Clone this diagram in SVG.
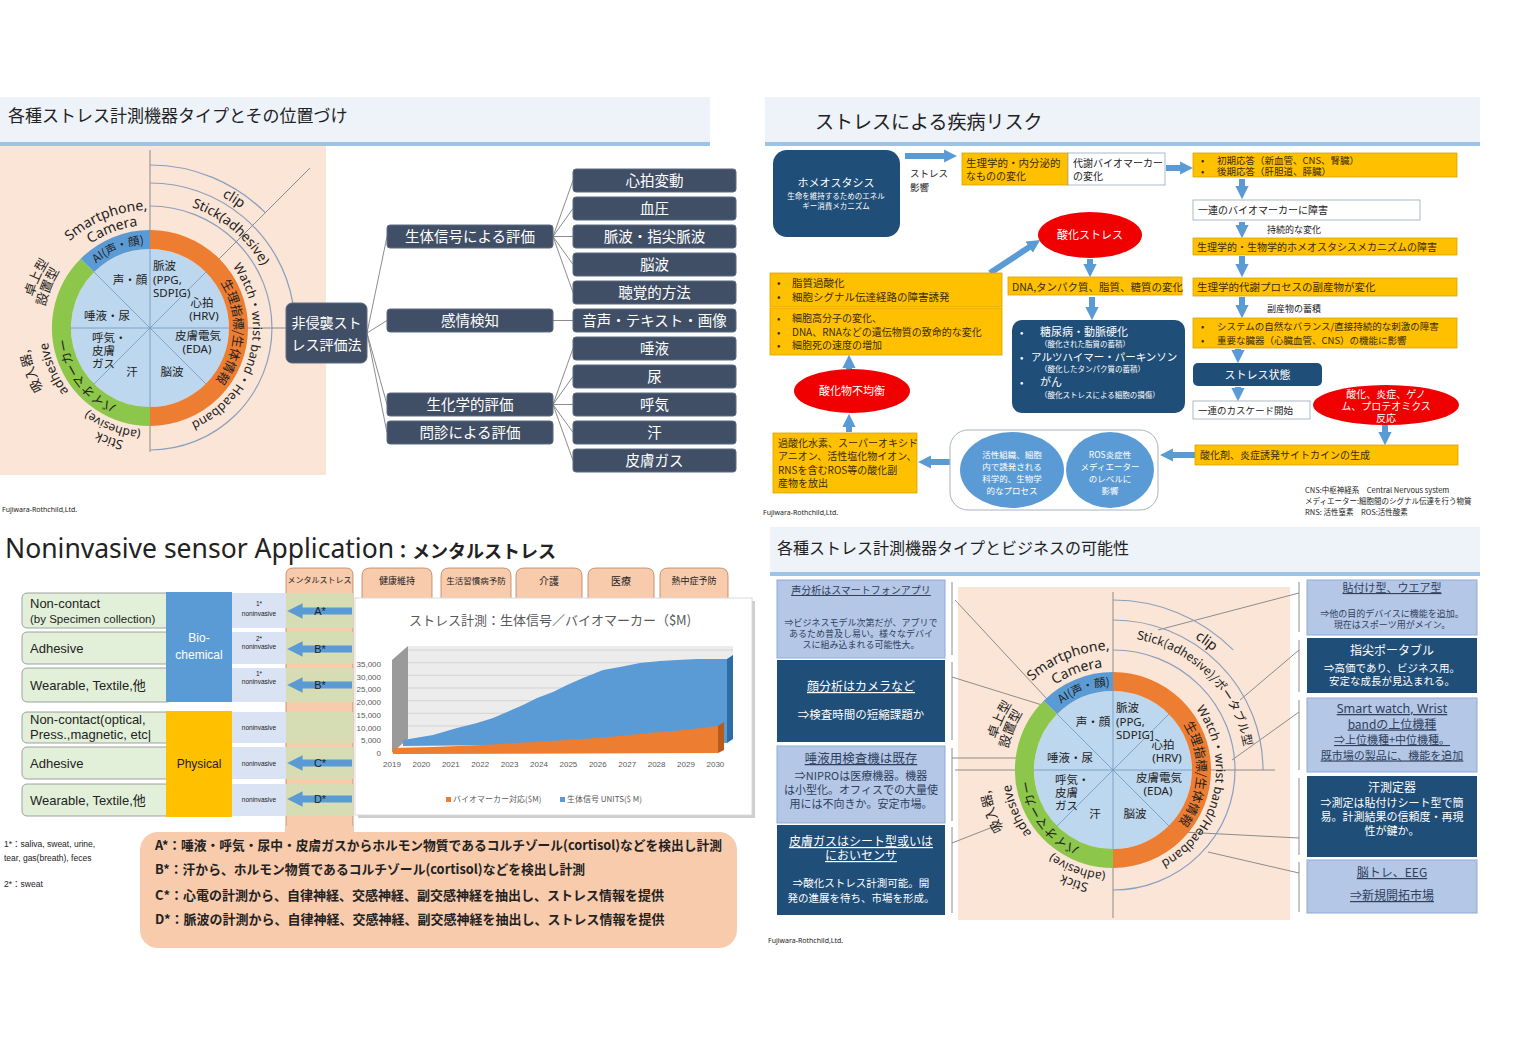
<svg xmlns="http://www.w3.org/2000/svg" width="1513" height="1041" viewBox="0 0 1513 1041">
<style>
text{font-family:"Noto Sans CJK JP","Noto Sans",sans-serif;fill:#222;}
.lat{font-family:"Noto Sans","Noto Sans CJK JP",sans-serif;}
.lib{font-family:"Liberation Sans","Noto Sans CJK JP",sans-serif;}
.tbar{fill:#eef2f9;}
.tline{fill:#9dc3e6;}
.peach{fill:#fbe5d6;}
.slate{fill:#414f66;stroke:#5d6b82;stroke-width:1;}
text.w,.w{fill:#fff;}
.m{text-anchor:middle;}
.conn{stroke:#8c8c8c;stroke-width:1;fill:none;}
.spoke{stroke:#6f95bd;stroke-width:0.8;fill:none;}
.arc{stroke:#8aa0bf;stroke-width:1.2;fill:none;}
.ring{fill:none;stroke-width:19;}
.yel{fill:#ffc000;stroke:#d9a300;stroke-width:0.8;}
.wbox{fill:#fff;stroke:#9aa7b8;stroke-width:0.8;}
.db{fill:#1f4e79;}
.red{fill:#f00000;}
.ba{stroke:#5b9bd5;stroke-width:6;fill:none;marker-end:url(#ah);}
.bb{stroke:#5b9bd5;stroke-width:7;fill:none;marker-end:url(#ah);}
.lb{fill:#b4c7e7;stroke:#8faadc;stroke-width:1;}
text.lbt{fill:#2f3f5c;}
text.yt{fill:#3a2c00;}
.tab{fill:#f8cbad;stroke:#b9805a;stroke-width:0.8;}
.lbl{fill:#e2f0d9;stroke:#8a8a8a;stroke-width:0.8;}
.nv{fill:#dae3f3;}
.ct{text-anchor:middle;}
.ul{text-decoration:underline;}
text.g{fill:#595959;}
</style>
<defs>
<marker id="ah" viewBox="0 0 10 10" refX="3" refY="5" markerWidth="2.2" markerHeight="2.2" orient="auto" markerUnits="strokeWidth"><path d="M0,0 L10,5 L0,10 z" fill="#5b9bd5"/></marker>
<path id="r84" d="M-84,0 A84,84 0 0 1 84,0"/>
<path id="r103" d="M-103,0 A103,103 0 0 1 103,0"/>
<path id="r107" d="M-107,0 A107,107 0 0 1 107,0"/>
<path id="r116" d="M-116,0 A116,116 0 0 1 116,0"/>
<path id="r118" d="M-118,0 A118,118 0 0 1 118,0"/>
<path id="r120" d="M-120,0 A120,120 0 0 1 120,0"/>
<path id="r121" d="M-121,0 A121,121 0 0 1 121,0"/>
<path id="r123" d="M-123,0 A123,123 0 0 1 123,0"/>
<path id="r125" d="M-125,0 A125,125 0 0 1 125,0"/>
<path id="r128" d="M-128,0 A128,128 0 0 1 128,0"/>
<path id="r133" d="M-133,0 A133,133 0 0 1 133,0"/>
<path id="r150" d="M-150,0 A150,150 0 0 1 150,0"/>
<path id="r155" d="M-155,0 A155,155 0 0 1 155,0"/>
</defs>
<rect width="1513" height="1041" fill="#fff"/>

<!-- ============ Q1 ============ -->
<g id="q1-title">
<rect x="0" y="97" width="710" height="46" class="tbar"/>
<rect x="0" y="142" width="710" height="4" class="tline"/>
<text x="8" y="122" font-size="17">各種ストレス計測機器タイプとその位置づけ</text>
</g>
<rect x="0" y="146" width="326" height="329" class="peach"/>

<g id="wheel1" transform="translate(150,328)">
<path class="arc" d="M0,-163 A163,163 0 0 1 115.3,-115.3"/>
<path class="arc" d="M0,-145 A145,145 0 0 1 142.8,-25.2"/>
<path class="arc" d="M0,-122 A122,122 0 0 1 0,122"/>
<line class="conn" x1="0" y1="-178" x2="0" y2="124"/>
<line class="conn" x1="0" y1="0" x2="136" y2="0"/>
<line class="conn" x1="0" y1="0" x2="160" y2="-160"/>
<circle r="79" fill="#bdd7ee"/>
<path class="ring" stroke="#ed7d31" d="M0,-88.5 A88.5,88.5 0 0 1 0,88.5"/>
<path class="ring" stroke="#8cc64a" d="M0,88.5 A88.5,88.5 0 0 1 -62.6,-62.6"/>
<path class="ring" stroke="#5b9bd5" d="M-62.6,-62.6 A88.5,88.5 0 0 1 0,-88.5"/>
<g class="spoke"><line x1="0" y1="-79" x2="0" y2="79"/><line x1="-79" y1="0" x2="79" y2="0"/><line x1="-56" y1="-56" x2="56" y2="56"/><line x1="-56" y1="56" x2="56" y2="-56"/></g>
<g font-size="11.5">
<text x="-20" y="-44" class="m">声・顔</text>
<text x="3" y="-58">脈波</text>
<text x="3" y="-44" class="lat">(PPG,</text>
<text x="3" y="-31" class="lat">SDPIG)</text>
<text x="52" y="-21" class="m">心拍</text>
<text x="54" y="-8" class="m lat">(HRV)</text>
<text x="-43" y="-8" class="m">唾液・尿</text>
<text x="-58" y="14">呼気・</text>
<text x="-58" y="27">皮膚</text>
<text x="-58" y="40">ガス</text>
<text x="-18" y="48" class="m">汗</text>
<text x="48" y="12" class="m">皮膚電気</text>
<text x="47" y="25" class="m lat">(EDA)</text>
<text x="22" y="48" class="m">脳波</text>
</g>
<g class="ct">
<text class="lat" font-size="14" transform="rotate(-22)"><textPath href="#r118" startOffset="50%">Smartphone,</textPath></text>
<text class="lat" font-size="14" transform="rotate(-21)"><textPath href="#r103" startOffset="50%">Camera</textPath></text>
<text font-size="11.5" fill="#1f3864" transform="rotate(-22)"><textPath href="#r84" startOffset="50%">AI(声・顔)</textPath></text>
<text class="lat" font-size="14" transform="rotate(33)"><textPath href="#r150" startOffset="50%">clip</textPath></text>
<text class="lat" font-size="13.5" transform="rotate(40)"><textPath href="#r128" startOffset="50%">Stick(adhesive)</textPath></text>
<text class="lat" font-size="12.5" transform="rotate(105)"><textPath href="#r103" startOffset="50%">Watch・wrist band・Headband</textPath></text>
<text font-size="12.5" fill="#3a2a1a" transform="rotate(93)"><textPath href="#r84" startOffset="50%">生理指標/生体情報</textPath></text>
<text font-size="13" transform="rotate(-66)"><textPath href="#r121" startOffset="50%">卓上型</textPath></text>
<text font-size="13" transform="rotate(-68)"><textPath href="#r107" startOffset="50%">設置型</textPath></text>
<text font-size="13" transform="rotate(250)"><textPath href="#r123" startOffset="50%">吸入器,</textPath></text>
<text class="lat" font-size="13" transform="rotate(247)"><textPath href="#r103" startOffset="50%">adhesive</textPath></text>
<text font-size="12.5" fill="#1a2a10" transform="rotate(233)"><textPath href="#r84" startOffset="50%">バイオマーカー</textPath></text>
<text class="lat" font-size="12" transform="rotate(201)"><textPath href="#r103" startOffset="50%">(adhesive)</textPath></text>
<text class="lat" font-size="13" transform="rotate(200)"><textPath href="#r116" startOffset="50%">Stick</textPath></text>
</g>
</g>

<g id="tree-connectors" class="conn">
<line x1="367" y1="333" x2="387" y2="236.5"/><line x1="367" y1="333" x2="387" y2="320.5"/><line x1="367" y1="333" x2="387" y2="404.5"/><line x1="367" y1="333" x2="387" y2="432.5"/>
<line x1="553" y1="236.5" x2="573" y2="180.5"/><line x1="553" y1="236.5" x2="573" y2="208.5"/><line x1="553" y1="236.5" x2="573" y2="236.5"/><line x1="553" y1="236.5" x2="573" y2="264.5"/><line x1="553" y1="236.5" x2="573" y2="292.5"/>
<line x1="553" y1="320.5" x2="573" y2="320.5"/>
<line x1="553" y1="404.5" x2="573" y2="348.5"/><line x1="553" y1="404.5" x2="573" y2="376.5"/><line x1="553" y1="404.5" x2="573" y2="404.5"/><line x1="553" y1="404.5" x2="573" y2="432.5"/><line x1="553" y1="404.5" x2="573" y2="460.5"/>
</g>
<g id="tree-root"><rect x="286" y="303" width="81" height="60" rx="6" class="slate"/><text x="326.5" y="328" font-size="14" class="w m">非侵襲スト</text><text x="326.5" y="350" font-size="14" class="w m">レス評価法</text></g>
<g font-size="14.5">
<g id="n-seitai"><rect x="387" y="225" width="166" height="23" rx="3" class="slate"/><text x="470" y="242" class="w m">生体信号による評価</text></g>
<g id="n-kanjo"><rect x="387" y="309" width="166" height="23" rx="3" class="slate"/><text x="470" y="326" class="w m">感情検知</text></g>
<g id="n-seika"><rect x="387" y="393" width="166" height="23" rx="3" class="slate"/><text x="470" y="410" class="w m">生化学的評価</text></g>
<g id="n-monshin"><rect x="387" y="421" width="166" height="23" rx="3" class="slate"/><text x="470" y="438" class="w m">問診による評価</text></g>
<g id="n-l3-1"><rect x="573" y="169" width="163" height="23" rx="3" class="slate"/><text x="654.5" y="186" class="w m">心拍変動</text></g>
<g id="n-l3-2"><rect x="573" y="197" width="163" height="23" rx="3" class="slate"/><text x="654.5" y="214" class="w m">血圧</text></g>
<g id="n-l3-3"><rect x="573" y="225" width="163" height="23" rx="3" class="slate"/><text x="654.5" y="242" class="w m">脈波・指尖脈波</text></g>
<g id="n-l3-4"><rect x="573" y="253" width="163" height="23" rx="3" class="slate"/><text x="654.5" y="270" class="w m">脳波</text></g>
<g id="n-l3-5"><rect x="573" y="281" width="163" height="23" rx="3" class="slate"/><text x="654.5" y="298" class="w m">聴覚的方法</text></g>
<g id="n-l3-6"><rect x="573" y="309" width="163" height="23" rx="3" class="slate"/><text x="654.5" y="326" class="w m">音声・テキスト・画像</text></g>
<g id="n-l3-7"><rect x="573" y="337" width="163" height="23" rx="3" class="slate"/><text x="654.5" y="354" class="w m">唾液</text></g>
<g id="n-l3-8"><rect x="573" y="365" width="163" height="23" rx="3" class="slate"/><text x="654.5" y="382" class="w m">尿</text></g>
<g id="n-l3-9"><rect x="573" y="393" width="163" height="23" rx="3" class="slate"/><text x="654.5" y="410" class="w m">呼気</text></g>
<g id="n-l3-10"><rect x="573" y="421" width="163" height="23" rx="3" class="slate"/><text x="654.5" y="438" class="w m">汗</text></g>
<g id="n-l3-11"><rect x="573" y="449" width="163" height="23" rx="3" class="slate"/><text x="654.5" y="466" class="w m">皮膚ガス</text></g>
</g>
<text x="2" y="512" font-size="7" class="lat">Fujiwara-Rothchild,Ltd.</text>

<!-- ============ Q2 ============ -->
<g id="q2-title">
<rect x="765" y="97" width="715" height="46" class="tbar"/>
<rect x="765" y="142" width="715" height="4" class="tline"/>
<text x="815" y="129" font-size="19">ストレスによる疾病リスク</text>
</g>
<g id="q2-connectors">
<line class="ba" x1="905" y1="156" x2="948" y2="156"/>
<line class="ba" x1="1166" y1="168" x2="1184" y2="168"/>
<line class="ba" x1="1242" y1="179" x2="1242" y2="190"/>
<line class="ba" x1="1242" y1="222" x2="1242" y2="229"/>
<line class="ba" x1="1242" y1="256" x2="1242" y2="268"/>
<line class="ba" x1="1242" y1="297" x2="1242" y2="309"/>
<line class="ba" x1="1238" y1="349" x2="1238" y2="354"/>
<line class="ba" x1="1238" y1="387" x2="1238" y2="392"/>
<line class="ba" x1="1385" y1="425" x2="1385" y2="436"/>
<line class="ba" x1="1195" y1="455" x2="1169" y2="455"/>
<line class="ba" x1="950" y1="462" x2="927" y2="462"/>
<line class="ba" x1="849" y1="432" x2="849" y2="423"/>
<line class="ba" x1="849" y1="369" x2="849" y2="364"/>
<line class="ba" x1="990" y1="273" x2="1032.5" y2="245"/>
<line class="ba" x1="1090" y1="259" x2="1090" y2="268"/>
<line class="ba" x1="1092" y1="297" x2="1092" y2="311"/>
</g>
<g id="homeo"><rect x="773" y="150" width="127" height="87" rx="14" class="db"/>
<text x="836" y="187" font-size="11" class="w m">ホメオスタシス</text>
<text x="836" y="199" font-size="7.5" class="w m">生命を維持するためのエネル</text>
<text x="836" y="209" font-size="7.5" class="w m">ギー消費メカニズム</text></g>
<text x="910" y="177" font-size="9.5">ストレス</text>
<text x="910" y="191" font-size="9.5">影響</text>
<g id="b-naibunpi"><rect x="962" y="153" width="106" height="32" class="yel"/><text x="966" y="167" font-size="10.5" class="yt">生理学的・内分泌的</text><text x="966" y="180" font-size="10" class="yt">なものの変化</text></g>
<g id="b-taisha"><rect x="1068" y="153" width="97" height="32" class="wbox"/><text x="1073" y="167" font-size="10">代謝バイオマーカー</text><text x="1073" y="180" font-size="10">の変化</text></g>
<g id="b-oto"><rect x="1193" y="153" width="264" height="24" class="yel"/><text x="1201" y="164" font-size="9.5" class="yt">•</text><text x="1217" y="164" font-size="9.5" class="yt">初期応答（新血管、CNS、腎臓）</text><text x="1201" y="175" font-size="9.5" class="yt">•</text><text x="1217" y="175" font-size="9.5" class="yt">後期応答（肝胆道、膵臓）</text></g>
<g id="b-shogai"><rect x="1193" y="200" width="227" height="20" class="wbox"/><text x="1198" y="214" font-size="10">一連のバイオマーカーに障害</text></g>
<text x="1267" y="233" font-size="9">持続的な変化</text>
<g id="b-homeo-shogai"><rect x="1193" y="238" width="264" height="17" class="yel"/><text x="1197" y="251" font-size="10" class="yt">生理学的・生物学的ホメオスタシスメカニズムの障害</text></g>
<g id="b-fukusan"><rect x="1193" y="278" width="264" height="18" class="yel"/><text x="1197" y="291" font-size="10.5" class="yt">生理学的代謝プロセスの副産物が変化</text></g>
<text x="1267" y="312" font-size="9">副産物の蓄積</text>
<g id="b-system"><rect x="1193" y="318" width="264" height="30" class="yel"/><text x="1201" y="330" font-size="9.5" class="yt">•</text><text x="1217" y="330" font-size="9.5" class="yt">システムの自然なバランス/直接持続的な刺激の障害</text><text x="1201" y="344" font-size="9.5" class="yt">•</text><text x="1217" y="344" font-size="9.5" class="yt">重要な臓器（心臓血管、CNS）の機能に影響</text></g>
<g id="b-stress"><rect x="1193" y="363" width="129" height="23" rx="5" class="db"/><text x="1257.5" y="379" font-size="11" class="w m">ストレス状態</text></g>
<g id="b-cascade"><rect x="1193" y="401" width="117" height="18" class="wbox"/><text x="1198" y="414" font-size="9.5">一連のカスケード開始</text></g>
<g id="e-enshou"><ellipse cx="1386" cy="405" rx="73" ry="20" class="red"/><text x="1386" y="398" font-size="10" class="w m">酸化、炎症、ゲノ</text><text x="1386" y="410" font-size="10" class="w m">ム、プロテオミクス</text><text x="1386" y="422" font-size="10" class="w m">反応</text></g>
<g id="b-cytokine"><rect x="1195" y="445" width="263" height="20" class="yel"/><text x="1200" y="459" font-size="10" class="yt">酸化剤、炎症誘発サイトカインの生成</text></g>
<g id="b-process"><rect x="950" y="430" width="208" height="80" rx="18" fill="#fff" stroke="#a9b4c2"/>
<ellipse cx="1012" cy="470" rx="52" ry="38" fill="#5b9bd5"/>
<ellipse cx="1110" cy="470" rx="44" ry="38" fill="#5b9bd5"/>
<g font-size="8.5" class="m"><text x="1012" y="458" class="w">活性組織、細胞</text><text x="1012" y="470" class="w">内で誘発される</text><text x="1012" y="482" class="w">科学的、生物学</text><text x="1012" y="494" class="w">的なプロセス</text>
<text x="1110" y="458" class="w">ROS炎症性</text><text x="1110" y="470" class="w">メディエーター</text><text x="1110" y="482" class="w">のレベルに</text><text x="1110" y="494" class="w">影響</text></g></g>
<g id="b-ros"><rect x="773" y="433" width="144" height="60" class="yel"/><g font-size="10" class="yt"><text x="778" y="447" class="yt">過酸化水素、スーパーオキシド</text><text x="778" y="460" class="yt">アニオン、活性塩化物イオン、</text><text x="778" y="474" class="yt">RNSを含むROS等の酸化副</text><text x="778" y="487" class="yt">産物を放出</text></g></g>
<g id="e-fukinko"><ellipse cx="852" cy="391" rx="58" ry="22" class="red"/><text x="852" y="395" font-size="11" class="w m">酸化物不均衡</text></g>
<g id="b-saibou"><rect x="770" y="308" width="232" height="47" class="yel"/><text x="777" y="322" font-size="10" class="yt">•</text><text x="792" y="322" font-size="10" class="yt">細胞高分子の変化、</text><text x="777" y="336" font-size="10" class="yt">•</text><text x="792" y="336" font-size="10" class="yt">DNA、RNAなどの遺伝物質の致命的な変化</text><text x="777" y="349" font-size="10" class="yt">•</text><text x="792" y="349" font-size="10" class="yt">細胞死の速度の増加</text></g>
<g id="b-shishitsu"><rect x="770" y="273" width="232" height="34" class="yel"/><text x="777" y="287" font-size="10.5" class="yt">•</text><text x="792" y="287" font-size="10.5" class="yt">脂質過酸化</text><text x="777" y="301" font-size="10.5" class="yt">•</text><text x="792" y="301" font-size="10.5" class="yt">細胞シグナル伝達経路の障害誘発</text></g>
<g id="e-sanka"><ellipse cx="1090" cy="235" rx="52" ry="23" class="red"/><text x="1090" y="239" font-size="11" class="w m">酸化ストレス</text></g>
<g id="b-dna"><rect x="1008" y="277" width="174" height="18" class="yel"/><text x="1012" y="290.5" font-size="10.5" class="yt">DNA,タンパク質、脂質、糖質の変化</text></g>
<g id="b-disease"><rect x="1012" y="320" width="173" height="93" rx="10" class="db"/>
<text x="1020" y="336" font-size="10" class="w">•</text><text x="1040" y="336" font-size="11" class="w">糖尿病・動脈硬化</text><text x="1040" y="347" font-size="7.5" class="w">（酸化された脂質の蓄積）</text>
<text x="1020" y="361" font-size="10" class="w">•</text><text x="1031" y="361" font-size="10.5" class="w">アルツハイマー・パーキンソン</text><text x="1040" y="372" font-size="7.5" class="w">（酸化したタンパク質の蓄積）</text>
<text x="1020" y="386" font-size="10" class="w">•</text><text x="1040" y="386" font-size="11" class="w">がん</text><text x="1040" y="398" font-size="7.5" class="w">（酸化ストレスによる細胞の損傷）</text></g>
<g font-size="7.5"><text x="1305" y="493">CNS:中枢神経系　Central Nervous system</text><text x="1305" y="504">メディエーター:細胞間のシグナル伝達を行う物質</text><text x="1305" y="515">RNS: 活性窒素　ROS:活性酸素</text></g>
<text x="763" y="515" font-size="7" class="lat">Fujiwara-Rothchild,Ltd.</text>

<!-- ============ Q3 ============ -->
<text x="5" y="558"><tspan class="lat" font-size="26.5">Noninvasive sensor Application</tspan><tspan font-size="18" font-weight="bold">：メンタルストレス</tspan></text>
<g id="tabs">
<path class="tab" d="M286,840 V575 Q286,568 293,568 H346 Q353,568 353,575 V840 Z"/>
<path class="tab" d="M362,605 V576 Q362,568 370,568 H424 Q432,568 432,576 V605 Z"/>
<path class="tab" d="M441,605 V576 Q441,568 449,568 H503 Q511,568 511,576 V605 Z"/>
<path class="tab" d="M516,605 V576 Q516,568 524,568 H574 Q582,568 582,576 V605 Z"/>
<path class="tab" d="M588,605 V576 Q588,568 596,568 H646 Q654,568 654,576 V605 Z"/>
<path class="tab" d="M660,605 V576 Q660,568 668,568 H720 Q728,568 728,576 V605 Z"/>
<g class="m" fill="#5a3a20"><text x="319.5" y="583" font-size="8">メンタルストレス</text><text x="397" y="584" font-size="9">健康維持</text><text x="476" y="584" font-size="8.5">生活習慣病予防</text><text x="549" y="585" font-size="10">介護</text><text x="621" y="585" font-size="10">医療</text><text x="694" y="584" font-size="9">熱中症予防</text></g>
</g>
<g id="rows">
<rect x="286" y="593" width="67" height="35" fill="#d6dcb4"/><rect x="286" y="632" width="67" height="32" fill="#d6dcb4"/><rect x="286" y="668" width="67" height="34" fill="#d6dcb4"/><rect x="286" y="712" width="67" height="31" fill="#d6dcb4"/><rect x="286" y="747" width="67" height="32" fill="#d6dcb4"/><rect x="286" y="784" width="67" height="32" fill="#d6dcb4"/>
<rect x="22" y="593" width="150" height="35" rx="5" class="lbl"/><rect x="22" y="632" width="150" height="32" rx="5" class="lbl"/><rect x="22" y="668" width="150" height="34" rx="5" class="lbl"/><rect x="22" y="712" width="150" height="31" rx="5" class="lbl"/><rect x="22" y="747" width="150" height="32" rx="5" class="lbl"/><rect x="22" y="784" width="150" height="32" rx="5" class="lbl"/>
<g class="lib" font-size="13"><text x="30" y="608" class="lib">Non-contact</text><text x="30" y="623" font-size="11.5" class="lib">(by Specimen collection)</text><text x="30" y="653" class="lib">Adhesive</text><text x="30" y="690" class="lib">Wearable, Textile,他</text><text x="30" y="724" class="lib">Non-contact(optical,</text><text x="30" y="739" class="lib">Press.,magnetic, etc|</text><text x="30" y="768" class="lib">Adhesive</text><text x="30" y="805" class="lib">Wearable, Textile,他</text></g>
<g id="biochem"><rect x="166" y="592" width="66" height="110" fill="#5b9bd5"/><text x="199" y="642" font-size="12" class="w m lib">Bio-</text><text x="199" y="659" font-size="12" class="w m lib">chemical</text></g>
<g id="physical"><rect x="166" y="711" width="66" height="106" fill="#ffc000"/><text x="199" y="768" font-size="12" class="m lib">Physical</text></g>
<rect x="232" y="593" width="54" height="35" class="nv"/><rect x="232" y="632" width="54" height="32" class="nv"/><rect x="232" y="668" width="54" height="34" class="nv"/><rect x="232" y="712" width="54" height="31" class="nv"/><rect x="232" y="747" width="54" height="32" class="nv"/><rect x="232" y="784" width="54" height="32" class="nv"/>
<g class="m lib" font-size="6.5" fill="#444"><text x="259" y="606" class="lib">1*</text><text x="259" y="616" class="lib">noninvasive</text><text x="259" y="641" class="lib">2*</text><text x="259" y="649" class="lib">noninvasive</text><text x="259" y="676" class="lib">1*</text><text x="259" y="684" class="lib">noninvasive</text><text x="259" y="730" class="lib">noninvasive</text><text x="259" y="766" class="lib">noninvasive</text><text x="259" y="802" class="lib">noninvasive</text></g>
</g>
<g id="row-arrows">
<line class="bb" x1="352" y1="611" x2="298" y2="611"/><line class="bb" x1="352" y1="649" x2="298" y2="649"/><line class="bb" x1="352" y1="685" x2="298" y2="685"/><line class="bb" x1="352" y1="763" x2="298" y2="763"/><line class="bb" x1="352" y1="799" x2="298" y2="799"/>
<g font-size="11" class="m lib" fill="#1f3864"><text x="320" y="615" class="lib">A*</text><text x="320" y="653" class="lib">B*</text><text x="320" y="689" class="lib">B*</text><text x="320" y="767" class="lib">C*</text><text x="320" y="803" class="lib">D*</text></g>
</g>
<g id="chart">
<rect x="358" y="601" width="397" height="217" fill="#cfcfcf"/>
<rect x="355" y="598" width="397" height="217" fill="#fff" stroke="#d9d9d9"/>
<text x="550" y="625" font-size="13" class="g m">ストレス計測：生体信号／バイオマーカー（$M)</text>
<polygon points="408,646 733,646 733,739 408,739" fill="#ececec"/>
<polygon points="392,660 408,646 408,739 392,753" fill="#9a9a9a"/>
<polygon points="392,753 408,739 733,739 717,753" fill="#f6f6f6"/>
<g stroke="#cdcdcd" stroke-width="0.8"><line x1="408" y1="650" x2="733" y2="650"/><line x1="408" y1="662.7" x2="733" y2="662.7"/><line x1="408" y1="675.3" x2="733" y2="675.3"/><line x1="408" y1="688" x2="733" y2="688"/><line x1="408" y1="700.7" x2="733" y2="700.7"/><line x1="408" y1="713.3" x2="733" y2="713.3"/><line x1="408" y1="726" x2="733" y2="726"/></g>
<polygon points="403,740 433,735 457,728 477,723 493,718 507,712 523,705 537,698 553,692 567,685 583,678 603,670 620,667 640,663 660,661 677,660 697,659 727,659 727,743 403,746" fill="#5b9bd5"/>
<polygon points="727,659 733,655 733,739 727,743" fill="#2e6da4"/>
<polygon points="393,748 433,747 483,745 533,742 583,739 620,736 650,733 685,730 718,726 718,753 393,754" fill="#ed7d31"/>
<polygon points="718,726 724,722 724,750 718,753" fill="#b85a1c"/>
<g font-size="8" class="g lib" text-anchor="end"><text x="381" y="667" class="g lib">35,000</text><text x="381" y="679.7" class="g lib">30,000</text><text x="381" y="692.4" class="g lib">25,000</text><text x="381" y="705.1" class="g lib">20,000</text><text x="381" y="717.8" class="g lib">15,000</text><text x="381" y="730.5" class="g lib">10,000</text><text x="381" y="743.2" class="g lib">5,000</text><text x="381" y="756" class="g lib">0</text></g>
<g font-size="8" class="m lib"><text x="392" y="767" class="g lib">2019</text><text x="421.4" y="767" class="g lib">2020</text><text x="450.8" y="767" class="g lib">2021</text><text x="480.2" y="767" class="g lib">2022</text><text x="509.6" y="767" class="g lib">2023</text><text x="539" y="767" class="g lib">2024</text><text x="568.4" y="767" class="g lib">2025</text><text x="597.8" y="767" class="g lib">2026</text><text x="627.2" y="767" class="g lib">2027</text><text x="656.6" y="767" class="g lib">2028</text><text x="686" y="767" class="g lib">2029</text><text x="715.4" y="767" class="g lib">2030</text></g>
<rect x="446" y="797" width="5" height="5" fill="#ed7d31"/><text x="453" y="802" font-size="8" class="g">バイオマーカー対応($M)</text>
<rect x="560" y="797" width="5" height="5" fill="#5b9bd5"/><text x="567" y="802" font-size="8" class="g">生体信号 UNITS($ M)</text>
</g>
<g id="notes-box">
<rect x="140" y="832" width="597" height="116" rx="18" fill="#f8cbad"/>
<rect x="286" y="826" width="67" height="14" fill="#f8cbad"/>
<g font-size="13" font-weight="bold"><text x="155" y="850" textLength="567" lengthAdjust="spacingAndGlyphs">A*：唾液・呼気・尿中・皮膚ガスからホルモン物質であるコルチゾール(cortisol)などを検出し計測</text><text x="155" y="874" textLength="430" lengthAdjust="spacingAndGlyphs">B*：汗から、ホルモン物質であるコルチゾール(cortisol)などを検出し計測</text><text x="155" y="900">C*：心電の計測から、自律神経、交感神経、副交感神経を抽出し、ストレス情報を提供</text><text x="155" y="924">D*：脈波の計測から、自律神経、交感神経、副交感神経を抽出し、ストレス情報を提供</text></g>
</g>
<g font-size="8.5" class="lib"><text x="4" y="847" class="lib">1*：saliva, sweat, urine,</text><text x="4" y="861" class="lib">tear, gas(breath), feces</text><text x="4" y="887" class="lib">2*：sweat</text></g>

<!-- ============ Q4 ============ -->
<g id="q4-title">
<rect x="770" y="527" width="710" height="45" class="tbar"/>
<rect x="770" y="572" width="710" height="4" class="tline"/>
<text x="777" y="554" font-size="16">各種ストレス計測機器タイプとビジネスの可能性</text>
</g>
<rect x="958" y="587" width="332" height="333" class="peach"/>
<g id="q4-connectors" class="conn">
<line x1="952" y1="582" x2="952" y2="655"/><line x1="952" y1="662" x2="952" y2="740"/><line x1="952" y1="748" x2="952" y2="821"/><line x1="952" y1="827" x2="952" y2="913"/>
<line x1="952" y1="677" x2="1042" y2="705"/><line x1="952" y1="758" x2="1048" y2="758"/><line x1="952" y1="843" x2="1003" y2="823"/>
<line x1="1299" y1="582" x2="1299" y2="632"/><line x1="1299" y1="640" x2="1299" y2="692"/><line x1="1299" y1="700" x2="1299" y2="770"/><line x1="1299" y1="778" x2="1299" y2="855"/><line x1="1299" y1="862" x2="1299" y2="912"/>
<line x1="1299" y1="593" x2="1158" y2="630"/><line x1="1299" y1="650" x2="1240" y2="700"/><line x1="1299" y1="712" x2="1232" y2="760"/><line x1="1299" y1="838" x2="1105" y2="828"/><line x1="1299" y1="873" x2="1208" y2="852"/>
</g>
<g id="wheel2" transform="translate(1113,770)">
<path class="arc" d="M0,-170 A170,170 0 0 1 120.2,-120.2"/>
<path class="arc" d="M0,-150 A150,150 0 0 1 150,0"/>
<path class="arc" d="M0,-120 A122,120 0 0 1 0,120"/>
<line class="conn" x1="0" y1="-178" x2="0" y2="148"/>
<line class="conn" x1="-158" y1="0" x2="162" y2="0"/>
<line class="conn" x1="0" y1="0" x2="-158" y2="-170"/>
<circle r="79" fill="#bdd7ee"/>
<path class="ring" stroke="#ed7d31" d="M0,-88.5 A88.5,88.5 0 0 1 0,88.5"/>
<path class="ring" stroke="#8cc64a" d="M0,88.5 A88.5,88.5 0 0 1 -62.6,-62.6"/>
<path class="ring" stroke="#5b9bd5" d="M-62.6,-62.6 A88.5,88.5 0 0 1 0,-88.5"/>
<g class="spoke"><line x1="0" y1="-79" x2="0" y2="79"/><line x1="-79" y1="0" x2="79" y2="0"/><line x1="-56" y1="-56" x2="56" y2="56"/><line x1="-56" y1="56" x2="56" y2="-56"/></g>
<g font-size="11.5">
<text x="-20" y="-44" class="m">声・顔</text>
<text x="3" y="-58">脈波</text>
<text x="3" y="-44" class="lat">(PPG,</text>
<text x="3" y="-31" class="lat">SDPIG]</text>
<text x="50" y="-21" class="m">心拍</text>
<text x="54" y="-8" class="m lat">(HRV)</text>
<text x="-43" y="-8" class="m">唾液・尿</text>
<text x="-58" y="14">呼気・</text>
<text x="-58" y="27">皮膚</text>
<text x="-58" y="40">ガス</text>
<text x="-18" y="48" class="m">汗</text>
<text x="46" y="12" class="m">皮膚電気</text>
<text x="45" y="25" class="m lat">(EDA)</text>
<text x="22" y="48" class="m">脳波</text>
</g>
<g class="ct">
<text class="lat" font-size="14" transform="rotate(-22)"><textPath href="#r120" startOffset="50%">Smartphone,</textPath></text>
<text class="lat" font-size="14" transform="rotate(-20)"><textPath href="#r103" startOffset="50%">Camera</textPath></text>
<text font-size="11.5" fill="#1f3864" transform="rotate(-20)"><textPath href="#r84" startOffset="50%">AI(声・顔)</textPath></text>
<text class="lat" font-size="14" transform="rotate(36)"><textPath href="#r155" startOffset="50%">clip</textPath></text>
<text font-size="12" transform="rotate(45)"><textPath href="#r133" startOffset="50%">Stick(adhesive)/ポータブル型</textPath></text>
<text class="lat" font-size="12.5" transform="rotate(103)"><textPath href="#r103" startOffset="50%">Watch・wrist band/Headband</textPath></text>
<text font-size="12.5" fill="#3a2a1a" transform="rotate(93)"><textPath href="#r84" startOffset="50%">生理指標/生体情報</textPath></text>
<text font-size="13" transform="rotate(-66)"><textPath href="#r121" startOffset="50%">卓上型</textPath></text>
<text font-size="13" transform="rotate(-68)"><textPath href="#r107" startOffset="50%">設置型</textPath></text>
<text font-size="13" transform="rotate(251)"><textPath href="#r125" startOffset="50%">吸入器,</textPath></text>
<text class="lat" font-size="13" transform="rotate(247)"><textPath href="#r103" startOffset="50%">adhesive</textPath></text>
<text font-size="12.5" fill="#1a2a10" transform="rotate(233)"><textPath href="#r84" startOffset="50%">バイオマーカー</textPath></text>
<text class="lat" font-size="12" transform="rotate(200)"><textPath href="#r103" startOffset="50%">(adhesive)</textPath></text>
<text class="lat" font-size="13" transform="rotate(199)"><textPath href="#r116" startOffset="50%">Stick</textPath></text>
</g>
</g>
<g id="lbox1"><rect x="777" y="580" width="168" height="78" class="lb"/><text x="861" y="594" font-size="10" class="m lbt ul">声分析はスマートフォンアプリ</text><text x="861" y="626" font-size="9" class="m lbt">⇒ビジネスモデル次第だが、アプリで</text><text x="861" y="637" font-size="9" class="m lbt">あるため普及し易い。様々なデバイ</text><text x="861" y="648" font-size="9" class="m lbt">スに組み込まれる可能性大。</text></g>
<g id="lbox2"><rect x="777" y="660" width="168" height="82" class="db"/><text x="861" y="691" font-size="12" class="w m ul">顔分析はカメラなど</text><text x="861" y="719" font-size="11.5" class="w m">⇒検査時間の短縮課題か</text></g>
<g id="lbox3"><rect x="777" y="746" width="168" height="77" class="lb"/><text x="861" y="763" font-size="12.5" class="m lbt ul">唾液用検査機は既存</text><text x="861" y="779.5" font-size="11" class="m lbt">⇒NIPROは医療機器。機器</text><text x="861" y="793.5" font-size="11" class="m lbt">は小型化。オフィスでの大量使</text><text x="861" y="807.5" font-size="11" class="m lbt">用には不向きか。安定市場。</text></g>
<g id="lbox4"><rect x="777" y="825" width="168" height="90" class="db"/><text x="861" y="846" font-size="12" class="w m ul">皮膚ガスはシート型或いは</text><text x="861" y="860" font-size="12" class="w m ul">においセンサ</text><text x="861" y="887" font-size="10.5" class="w m">⇒酸化ストレス計測可能。開</text><text x="861" y="902" font-size="10.5" class="w m">発の進展を待ち、市場を形成。</text></g>
<text x="768" y="943" font-size="7" class="lat">Fujiwara-Rothchild,Ltd.</text>
<g id="rbox1"><rect x="1307" y="580" width="170" height="55" class="lb"/><text x="1392" y="592" font-size="11" class="m lbt ul">貼付け型、ウエア型</text><text x="1392" y="617" font-size="9" class="m lbt">⇒他の目的デバイスに機能を追加。</text><text x="1392" y="628" font-size="9" class="m lbt">現在はスポーツ用がメイン。</text></g>
<g id="rbox2"><rect x="1307" y="638" width="170" height="55" class="db"/><text x="1392" y="655" font-size="12" class="w m">指尖ポータブル</text><text x="1392" y="672" font-size="10.5" class="w m">⇒高価であり、ビジネス用。</text><text x="1392" y="685" font-size="10.5" class="w m">安定な成長が見込まれる。</text></g>
<g id="rbox3"><rect x="1307" y="698" width="170" height="74" class="lb"/><text x="1392" y="713" font-size="12.5" class="m lbt ul lat">Smart watch, Wrist</text><text x="1392" y="728.5" font-size="12" class="m lbt ul">bandの上位機種</text><text x="1392" y="744" font-size="11" class="m lbt ul">⇒上位機種+中位機種。</text><text x="1392" y="759.5" font-size="11" class="m lbt ul">既市場の製品に、機能を追加</text></g>
<g id="rbox4"><rect x="1307" y="776" width="170" height="81" class="db"/><text x="1392" y="792" font-size="12" class="w m">汗測定器</text><text x="1392" y="807" font-size="11" class="w m">⇒測定は貼付けシート型で簡</text><text x="1392" y="821" font-size="11" class="w m">易。計測結果の信頼度・再現</text><text x="1392" y="835" font-size="11" class="w m">性が鍵か。</text></g>
<g id="rbox5"><rect x="1307" y="860" width="170" height="53" class="lb"/><text x="1392" y="877" font-size="12" class="m lbt ul">脳トレ、EEG</text><text x="1392" y="900" font-size="12" class="m lbt ul">⇒新規開拓市場</text></g>
</svg>
